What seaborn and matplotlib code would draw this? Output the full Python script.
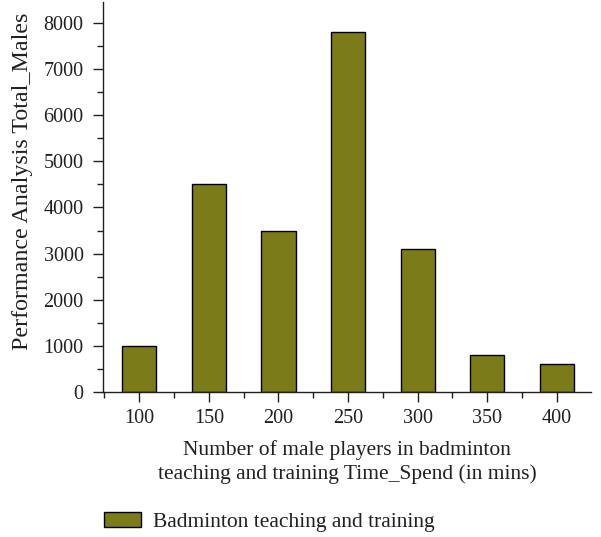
import matplotlib
matplotlib.use('Agg')
import matplotlib.pyplot as plt
import seaborn as sns
import pandas as pd
from matplotlib.ticker import MultipleLocator, FixedLocator

# data
time_spend = ['100', '150', '200', '250', '300', '350', '400']
total_males = [1000, 4500, 3500, 7800, 3100, 800, 600]
series_name = 'Badminton teaching and training'

BAR_COLOR = '#7B7B1A'
TEXT_COLOR = '#231F20'

sns.set_style('ticks')
plt.rcParams['font.family'] = ['Liberation Serif', 'DejaVu Serif']
plt.rcParams['text.color'] = TEXT_COLOR
plt.rcParams['axes.labelcolor'] = TEXT_COLOR
plt.rcParams['xtick.color'] = TEXT_COLOR
plt.rcParams['ytick.color'] = TEXT_COLOR

df = pd.DataFrame({'Time': time_spend, 'Total': total_males})

fig = plt.figure(figsize=(6.01, 5.37), dpi=100)
ax = fig.add_axes([0.1714, 0.27, 0.812, 0.726])

sns.barplot(data=df, x='Time', y='Total', color=BAR_COLOR, width=0.49,
            edgecolor='black', linewidth=1.0, saturation=1, label=series_name, ax=ax)

ax.set_xlim(-0.52, 6.49)
ax.set_ylim(0, 8450)
ax.yaxis.set_major_locator(MultipleLocator(1000))
ax.yaxis.set_minor_locator(MultipleLocator(500))
ax.xaxis.set_minor_locator(FixedLocator([i - 0.5 for i in range(len(time_spend) + 1)]))

ax.tick_params(axis='both', which='major', direction='out', length=7, width=1.0, labelsize=14.5)
ax.tick_params(axis='both', which='minor', direction='out', length=4, width=1.0)
ax.tick_params(axis='x', which='major', pad=5)
ax.tick_params(axis='y', which='major', pad=7)

for side in ['top', 'right']:
    ax.spines[side].set_visible(False)
for side in ['left', 'bottom']:
    ax.spines[side].set_linewidth(1.0)
    ax.spines[side].set_color(TEXT_COLOR)

ax.set_xlabel('Number of male players in badminton\nteaching and training Time_Spend (in mins)',
              fontsize=15.5, labelpad=9, linespacing=1.25)
ax.set_ylabel('Performance Analysis Total_Males', fontsize=17.3)
ax.yaxis.set_label_coords(-0.143, 0.541)

handles, labels = ax.get_legend_handles_labels()
if ax.get_legend() is not None:
    ax.get_legend().remove()
fig.legend(handles, labels, loc='lower left', bbox_to_anchor=(0.14, -0.026),
           frameon=False, fontsize=15.5, handlelength=1.72, handleheight=0.7,
           handletextpad=0.6)

fig.savefig('out.png', dpi=100)
